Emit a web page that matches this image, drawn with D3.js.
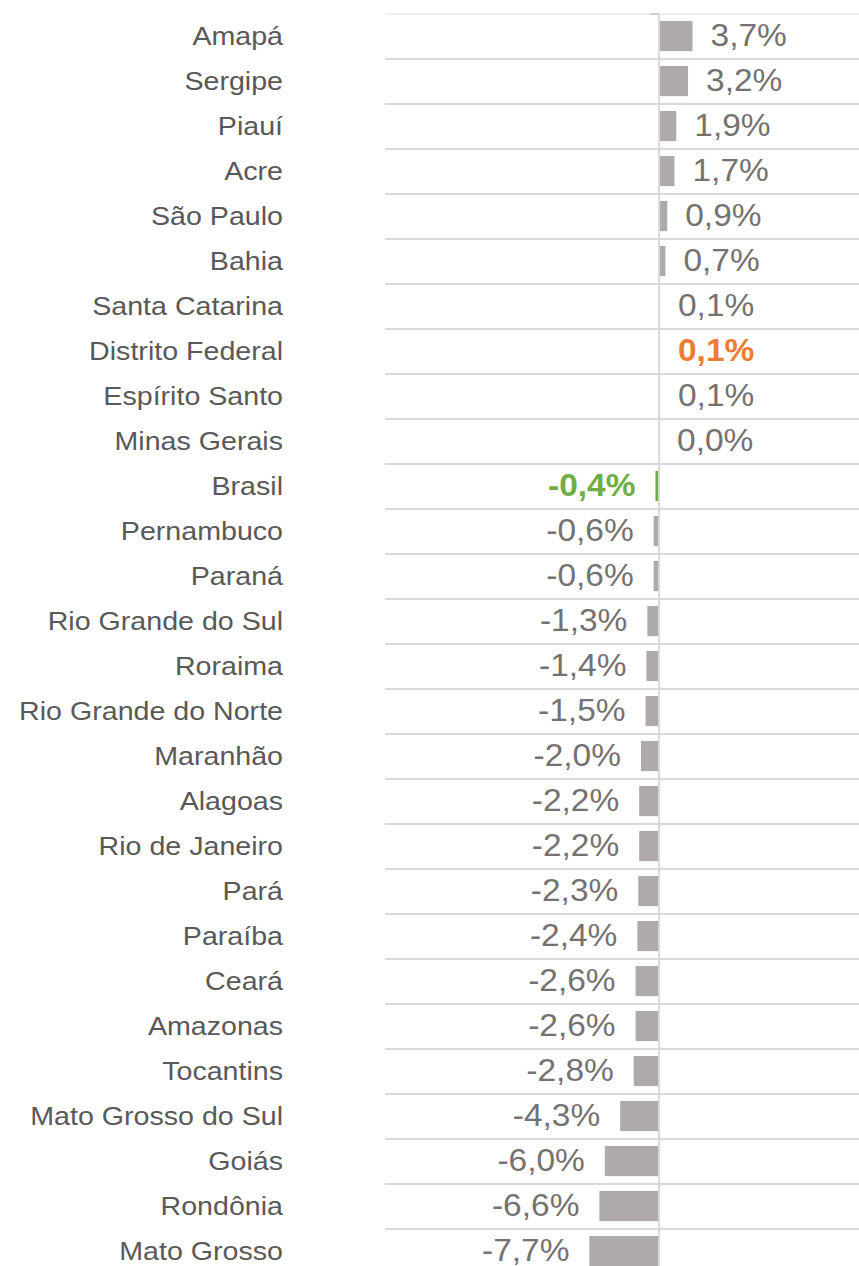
<!DOCTYPE html>
<html><head><meta charset="utf-8">
<script src="https://cdn.jsdelivr.net/npm/d3@7"></script>
<style>html,body{margin:0;padding:0;background:#fff;}svg{display:block;}</style>
</head><body>
<script>
const categories = ["Amapá","Sergipe","Piauí","Acre","São Paulo","Bahia","Santa Catarina","Distrito Federal","Espírito Santo","Minas Gerais","Brasil","Pernambuco","Paraná","Rio Grande do Sul","Roraima","Rio Grande do Norte","Maranhão","Alagoas","Rio de Janeiro","Pará","Paraíba","Ceará","Amazonas","Tocantins","Mato Grosso do Sul","Goiás","Rondônia","Mato Grosso"];
const values = [3.7,3.2,1.9,1.7,0.9,0.7,0.1,0.1,0.1,0.0,-0.4,-0.6,-0.6,-1.3,-1.4,-1.5,-2.0,-2.2,-2.2,-2.3,-2.4,-2.6,-2.6,-2.8,-4.3,-6.0,-6.6,-7.7];
const highlights = {"Distrito Federal":"#ED7D31","Brasil":"#70AD47"};

const W = 859, H = 1266;
const svg = d3.select("body").append("svg").attr("width", W).attr("height", H);

const y = d3.scaleBand().domain(categories).range([14, 14 + 45*categories.length]);
const x = d3.scaleLinear().domain([-30.3, 22.1]).range([385, 859]);
const step = y.step();

// gridlines (row separators)
svg.selectAll("line.grid").data(categories).join("line")
  .attr("x1", x.range()[0]).attr("x2", x.range()[1])
  .attr("y1", c => y(c)).attr("y2", c => y(c))
  .attr("stroke", (c, i) => i === 0 ? "#eeeeee" : "#d9d9d9").attr("stroke-width", 2);

const data = categories.map((c, i) => ({c, v: values[i]}));

// bars
svg.selectAll("rect.bar").data(data).join("rect")
  .attr("x", d => Math.min(x(d.v), x(0)))
  .attr("width", d => Math.abs(x(d.v) - x(0)))
  .attr("y", d => y(d.c) + step*0.155)
  .attr("height", step*0.67)
  .attr("fill", d => highlights[d.c] || "#AEAAAA");

// zero line
svg.append("line").attr("x1", x(0)).attr("x2", x(0))
  .attr("y1", y.range()[0]).attr("y2", H).attr("stroke", "#d9d9d9").attr("stroke-width", 2);
svg.append("line").attr("x1", x(0) - 9).attr("x2", x(0))
  .attr("y1", y.range()[0]).attr("y2", y.range()[0]).attr("stroke", "#d0d0d0").attr("stroke-width", 2);

const fmt = v => (v < 0 ? "-" : "") + Math.abs(v).toFixed(1).replace(".", ",") + "%";

// category labels
svg.selectAll("text.cat").data(data).join("text")
  .attr("transform", d => `translate(283,${y(d.c) + step/2 - 1}) scale(1.1,1)`)
  .attr("text-anchor", "end").attr("dy", "0.35em")
  .attr("font-family", "'Liberation Sans', Arial, sans-serif").attr("font-size", 26)
  .attr("fill", "#595959").text(d => d.c);

// value labels
svg.selectAll("text.val").data(data).join("text")
  .attr("transform", d => {
    const cy = y(d.c) + step/2 - 1.5;
    const tx = d.v >= 0 ? x(d.v) + 18 : x(d.v) - 20;
    return `translate(${tx},${cy}) scale(1.08,1)`;
  })
  .attr("text-anchor", d => d.v >= 0 ? "start" : "end").attr("dy", "0.35em")
  .attr("font-family", "'Liberation Sans', Arial, sans-serif").attr("font-size", 31)
  .attr("font-weight", d => highlights[d.c] ? "bold" : "normal")
  .attr("fill", d => highlights[d.c] || "#767171").text(d => fmt(d.v));
</script>
</body></html>
